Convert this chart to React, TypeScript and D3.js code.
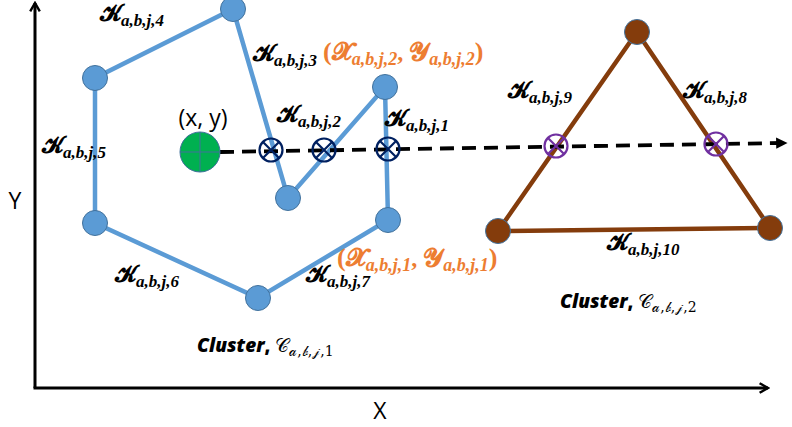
import React from "react";
import * as d3 from "d3";

const W = 792;
const H = 427;

// Diagram coordinate system: origin at the axes corner
const clusterOneNodes: [number, number][] = [
  [198, 379], [253, 190], [350, 301], [353, 168], [223, 90], [60, 165], [60, 310],
];
const clusterTwoNodes: [number, number][] = [
  [602, 356], [463, 157], [735, 160],
];
const queryPoint: [number, number] = [165, 236];
const rayEnd: [number, number] = [748, 245];
const crossingsOne: [number, number][] = [[236, 238], [289, 238], [353, 239]];
const crossingsTwo: [number, number][] = [[521, 242], [681, 244]];

const edgeLabels: { sub: string; x: number; y: number }[] = [
  { sub: "a,b,j,4", x: 65, y: 367 },
  { sub: "a,b,j,3", x: 218, y: 327 },
  { sub: "a,b,j,2", x: 242, y: 266 },
  { sub: "a,b,j,1", x: 350, y: 262 },
  { sub: "a,b,j,5", x: 7, y: 235 },
  { sub: "a,b,j,6", x: 80, y: 106 },
  { sub: "a,b,j,7", x: 271, y: 106 },
  { sub: "a,b,j,9", x: 473, y: 290 },
  { sub: "a,b,j,8", x: 648, y: 290 },
  { sub: "a,b,j,10", x: 572, y: 138 },
];
const coordLabels: { idx: string; x: number; y: number }[] = [
  { idx: "a,b,j,2", x: 288, y: 328 },
  { idx: "a,b,j,1", x: 302, y: 122 },
];
const clusterLabels: { idx: string; x: number; y: number }[] = [
  { idx: "1", x: 162, y: 36 },
  { idx: "2", x: 525, y: 80 },
];

const xs = d3.scaleLinear().domain([0, 733]).range([35, 768]);
const ys = d3.scaleLinear().domain([0, 388]).range([388, 0]);

const BLUE = "#5b9bd5";
const BROWN = "#843c0c";
const ORANGE = "#ed7d31";
const NAVY = "#002060";
const PURPLE = "#7030a0";
const subFont = "'Liberation Serif', 'DejaVu Serif', serif";

function Cross({ p, color }: { p: [number, number]; color: string }) {
  const cx = xs(p[0]);
  const cy = ys(p[1]);
  const r = 11.5;
  const d = r * 0.7;
  return (
    <g stroke={color} strokeWidth={2.2} fill="none">
      <ellipse cx={cx} cy={cy} rx={r} ry={r} />
      <line x1={cx - d} y1={cy - d} x2={cx + d} y2={cy + d} />
      <line x1={cx - d} y1={cy + d} x2={cx + d} y2={cy - d} />
    </g>
  );
}

export default function App() {
  const line = d3
    .line<[number, number]>()
    .x((d) => xs(d[0]))
    .y((d) => ys(d[1]))
    .curve(d3.curveLinearClosed);

  return (
    <svg width={W} height={H} style={{ position: "absolute", left: 0, top: 0, background: "#fff" }}>
      <defs>
        <marker id="arr" viewBox="0 0 10 10" refX="8" refY="5" markerWidth="4" markerHeight="4" orient="auto">
          <path d="M1,1 L8,5 L1,9" fill="none" stroke="#000" strokeWidth={2} />
        </marker>
        <marker id="arrD" viewBox="0 0 10 10" refX="6" refY="5" markerWidth="3" markerHeight="3" orient="auto">
          <path d="M0,0 L10,5 L0,10 Z" fill="#000" />
        </marker>
      </defs>

      {/* axes */}
      <line x1={xs(0)} y1={ys(0)} x2={xs(0)} y2={3} stroke="#000" strokeWidth={3} markerEnd="url(#arr)" />
      <line x1={xs(0) - 1.5} y1={ys(0)} x2={xs(733)} y2={ys(0)} stroke="#000" strokeWidth={3} markerEnd="url(#arr)" />
      <text x={15} y={209} fontFamily="'Open Sans', sans-serif" fontSize={23} textAnchor="middle">Y</text>
      <text x={380} y={419} fontFamily="'Open Sans', sans-serif" fontSize={23} textAnchor="middle">X</text>

      {/* clusters */}
      <path d={line(clusterOneNodes) || ""} fill="none" stroke={BLUE} strokeWidth={4.5} />
      <path d={line(clusterTwoNodes) || ""} fill="none" stroke={BROWN} strokeWidth={4.5} />

      {/* ray */}
      <line
        x1={xs(queryPoint[0]) + 20}
        y1={ys(queryPoint[1])}
        x2={xs(rayEnd[0])}
        y2={ys(rayEnd[1])}
        stroke="#000"
        strokeWidth={3.8}
        strokeDasharray="14 8"
        markerEnd="url(#arrD)"
      />

      {clusterOneNodes.map((p, i) => (
        <circle key={"c1" + i} cx={xs(p[0])} cy={ys(p[1])} r={12.5} fill={BLUE} stroke="#41719c" strokeWidth={1} />
      ))}
      {clusterTwoNodes.map((p, i) => (
        <circle key={"c2" + i} cx={xs(p[0])} cy={ys(p[1])} r={12.5} fill={BROWN} stroke="#41719c" strokeWidth={1} />
      ))}

      {/* query point */}
      <g>
        <circle cx={xs(queryPoint[0])} cy={ys(queryPoint[1])} r={20} fill="#00b050" stroke="#41719c" strokeWidth={1} />
        <line x1={xs(queryPoint[0]) - 20} y1={ys(queryPoint[1])} x2={xs(queryPoint[0]) + 20} y2={ys(queryPoint[1])} stroke="#41719c" strokeWidth={1} />
        <line x1={xs(queryPoint[0])} y1={ys(queryPoint[1]) - 20} x2={xs(queryPoint[0])} y2={ys(queryPoint[1]) + 20} stroke="#41719c" strokeWidth={1} />
        <text x={xs(queryPoint[0]) + 3} y={ys(queryPoint[1]) - 26} fontFamily="'Open Sans', sans-serif" fontSize={23} textAnchor="middle">(x, y)</text>
      </g>

      {crossingsOne.map((p, i) => <Cross key={"x1" + i} p={p} color={NAVY} />)}
      {crossingsTwo.map((p, i) => <Cross key={"x2" + i} p={p} color={PURPLE} />)}

      {/* edge labels */}
      {edgeLabels.map((l, i) => (
        <text key={"k" + i} x={xs(l.x)} y={ys(l.y)} fontFamily="'DejaVu Serif', serif" fontWeight="bold" fill="#000">
          <tspan fontSize={23}>{"\u{1D4DA}"}</tspan>
          <tspan fontSize={17} dy={5} fontFamily={subFont} fontStyle="italic" fontWeight="bold">{l.sub}</tspan>
        </text>
      ))}

      {/* coordinate labels */}
      {coordLabels.map((l, i) => (
        <text key={"o" + i} x={xs(l.x)} y={ys(l.y)} fill={ORANGE} fontWeight="bold" fontFamily="'DejaVu Serif', serif">
          <tspan fontSize={26} fontFamily={subFont}>(</tspan>
          <tspan fontSize={25}>{"\u{1D4E7}"}</tspan>
          <tspan fontSize={18} dy={5} fontFamily={subFont} fontStyle="italic">{l.idx}</tspan>
          <tspan fontSize={24} dy={-5} fontFamily={subFont}>, </tspan>
          <tspan fontSize={25}>{"\u{1D4E8}"}</tspan>
          <tspan fontSize={18} dy={5} fontFamily={subFont} fontStyle="italic">{l.idx}</tspan>
          <tspan fontSize={26} dy={-5} fontFamily={subFont}>)</tspan>
        </text>
      ))}

      {/* cluster labels */}
      {clusterLabels.map((l, i) => (
        <text key={"cl" + i} x={xs(l.x)} y={ys(l.y)} fill="#000">
          <tspan fontFamily="'Open Sans', sans-serif" fontWeight="800" fontStyle="italic" fontSize={19}>Cluster</tspan>
          <tspan fontFamily="'Open Sans', sans-serif" fontWeight="800" fontSize={19}>, </tspan>
          <tspan fontFamily="'DejaVu Serif', serif" fontSize={19}>{"\u{1D49E}"}</tspan>
          <tspan fontFamily="'DejaVu Serif', serif" fontSize={14} dy={4}>{"\u{1D4B6},\u{1D4B7},\u{1D4BF}," + l.idx}</tspan>
        </text>
      ))}
    </svg>
  );
}
